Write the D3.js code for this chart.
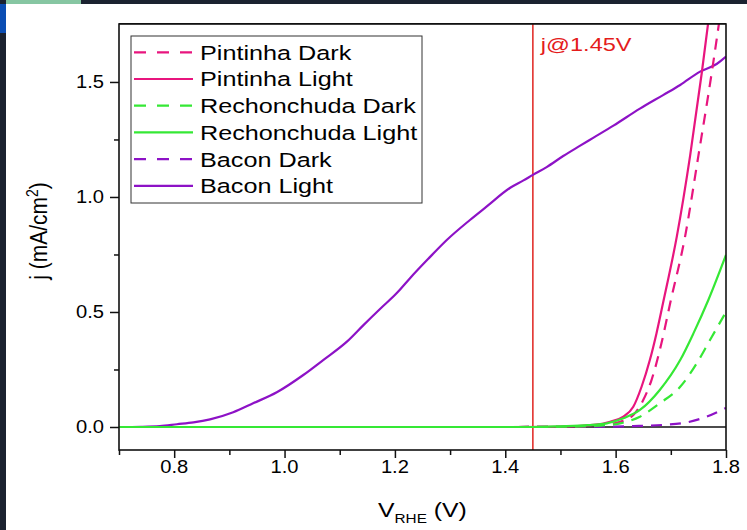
<!DOCTYPE html>
<html><head><meta charset="utf-8">
<script src="https://cdn.jsdelivr.net/npm/d3@7"></script>
<style>html,body{margin:0;padding:0;background:#fff;overflow:hidden}svg{display:block}</style>
</head><body>
<script>
// ---- data ----
const baconLightV = [0.70,0.74,0.774,0.805,0.835,0.865,0.907,0.943,0.986,1.034,1.070,1.113,1.143,1.173,1.203,1.227,1.260,1.294,1.336,1.366,1.409,1.433,1.450,1.475,1.505,1.535,1.560,1.596,1.644,1.686,1.717,1.753,1.783,1.800];
const baconLightJ = [0.000,0.001,0.004,0.012,0.020,0.033,0.064,0.103,0.151,0.226,0.291,0.371,0.443,0.513,0.581,0.646,0.730,0.813,0.900,0.958,1.040,1.072,1.096,1.130,1.178,1.222,1.258,1.310,1.384,1.443,1.487,1.545,1.578,1.610];
const baconDarkV = [0.70,1.00,1.40,1.50,1.60,1.632,1.686,1.729,1.765,1.800];
const baconDarkJ = [0.000,0.000,0.000,0.001,0.002,0.004,0.009,0.020,0.045,0.083];
const pintLightV = [0.70,1.00,1.40,1.50,1.560,1.590,1.614,1.632,1.647,1.662,1.674,1.686,1.711,1.735,1.756,1.770];
const pintLightJ = [0.000,0.000,0.000,0.001,0.009,0.023,0.045,0.088,0.175,0.291,0.407,0.540,0.830,1.180,1.538,1.800];
const pintDarkV = [0.70,1.00,1.40,1.50,1.570,1.608,1.632,1.650,1.665,1.683,1.699,1.726,1.750,1.774,1.790];
const pintDarkJ = [0.000,0.000,0.000,0.001,0.008,0.023,0.052,0.117,0.204,0.364,0.540,0.830,1.180,1.538,1.800];
const rechLightV = [0.70,1.00,1.40,1.45,1.50,1.55,1.584,1.614,1.644,1.680,1.717,1.741,1.768,1.800];
const rechLightJ = [0.000,0.000,0.000,0.000,0.003,0.008,0.016,0.038,0.074,0.161,0.291,0.407,0.552,0.748];
const rechDarkV = [0.70,1.00,1.40,1.50,1.570,1.608,1.644,1.680,1.717,1.747,1.771,1.800];
const rechDarkJ = [0.000,0.000,0.000,0.001,0.006,0.016,0.045,0.103,0.175,0.277,0.378,0.500];
const seriesNames = ["Pintinha Dark","Pintinha Light","Rechonchuda Dark","Rechonchuda Light","Bacon Dark","Bacon Light"];
const xMajorTicks = [0.8,1.0,1.2,1.4,1.6,1.8];
const xMinorTicks = [0.7,0.9,1.1,1.3,1.5,1.7];
const yMajorTicks = [0.0,0.5,1.0,1.5];
const yMinorTicks = [0.25,0.75,1.25];
const markerV = 1.45;
const markerLabel = "j@1.45V";

// ---- styles ----
const colors = {"Pintinha":"#e8157e","Rechonchuda":"#35e835","Bacon":"#8d12c6"};
const W = 747, H = 530;
const plot = {left:119, right:726, top:24, bottom:450};
const FONT = "'Liberation Sans', Arial, sans-serif";

const svg = d3.select("body").append("svg").attr("width",W).attr("height",H);

// window decorations
svg.append("rect").attr("x",0).attr("y",0).attr("width",W).attr("height",4).attr("fill","#1b2230");
svg.append("rect").attr("x",6).attr("y",0).attr("width",75).attr("height",4).attr("fill","#86c6a2");
svg.append("rect").attr("x",0).attr("y",0).attr("width",6).attr("height",H).attr("fill","#1b2230");
svg.append("rect").attr("x",0).attr("y",4).attr("width",6).attr("height",29).attr("fill","#0b4db3");

const x = d3.scaleLinear().domain([0.7,1.8]).range([plot.left,plot.right]);
const y = d3.scaleLinear().domain([-0.1,1.752]).range([plot.bottom,plot.top]);

const defs = svg.append("defs");
defs.append("clipPath").attr("id","clip").append("rect")
  .attr("x",plot.left).attr("y",plot.top).attr("width",plot.right-plot.left).attr("height",plot.bottom-plot.top);

// zero line
svg.append("line").attr("x1",plot.left).attr("x2",plot.right).attr("y1",y(0)).attr("y2",y(0))
  .attr("stroke","#111").attr("stroke-width",1.5);

// marker line
svg.append("line").attr("x1",x(markerV)).attr("x2",x(markerV)).attr("y1",plot.top).attr("y2",plot.bottom)
  .attr("stroke","#e2312c").attr("stroke-width",1.6);

function stretchText(g, tx, ty, str, size, sx, anchor, color){
  return g.append("text").attr("transform",`translate(${tx},${ty}) scale(${sx},1)`)
    .attr("font-family",FONT).attr("font-size",size).attr("text-anchor",anchor||"start")
    .attr("fill",color||"#000").text(str);
}

// curves
const line = d3.line().x(d=>x(d[0])).y(d=>y(d[1])).curve(d3.curveMonotoneX);
const curves = [
  {name:"Bacon Dark", V:baconDarkV, J:baconDarkJ, c:colors.Bacon, dash:true},
  {name:"Bacon Light", V:baconLightV, J:baconLightJ, c:colors.Bacon, dash:false},
  {name:"Pintinha Dark", V:pintDarkV, J:pintDarkJ, c:colors.Pintinha, dash:true},
  {name:"Pintinha Light", V:pintLightV, J:pintLightJ, c:colors.Pintinha, dash:false},
  {name:"Rechonchuda Dark", V:rechDarkV, J:rechDarkJ, c:colors.Rechonchuda, dash:true},
  {name:"Rechonchuda Light", V:rechLightV, J:rechLightJ, c:colors.Rechonchuda, dash:false}
];
const cg = svg.append("g").attr("clip-path","url(#clip)");
curves.forEach(s=>{
  cg.append("path").datum(s.V.map((v,i)=>[v,s.J[i]])).attr("d",line)
    .attr("fill","none").attr("stroke",s.c).attr("stroke-width",2.2)
    .attr("stroke-dasharray",s.dash?"11,8":null);
});

// axes
const ax = svg.append("g").attr("transform",`translate(0,${plot.bottom})`)
  .call(d3.axisBottom(x).tickValues(xMajorTicks).tickSize(8).tickFormat(()=>""));
const axm = svg.append("g").attr("transform",`translate(0,${plot.bottom})`)
  .call(d3.axisBottom(x).tickValues(xMinorTicks).tickSize(5).tickFormat(()=>""));
const ay = svg.append("g").attr("transform",`translate(${plot.left},0)`)
  .call(d3.axisLeft(y).tickValues(yMajorTicks).tickSize(9).tickFormat(()=>""));
const aym = svg.append("g").attr("transform",`translate(${plot.left},0)`)
  .call(d3.axisLeft(y).tickValues(yMinorTicks).tickSize(5).tickFormat(()=>""));
[ax,axm,ay,aym].forEach(g=>{
  g.select(".domain").remove();
  g.selectAll(".tick line").attr("stroke","#111").attr("stroke-width",1.5);
});
// tick labels
const tl = svg.append("g");
xMajorTicks.forEach(v=>stretchText(tl, x(v), 473, d3.format(".1f")(v), 18, 1.12, "middle"));
yMajorTicks.forEach(v=>stretchText(tl, 104, y(v)+6.5, d3.format(".1f")(v), 18, 1.12, "end"));

// frame
svg.append("rect").attr("x",plot.left).attr("y",plot.top).attr("width",plot.right-plot.left).attr("height",plot.bottom-plot.top)
  .attr("fill","none").attr("stroke","#111").attr("stroke-width",1.6);
svg.append("line").attr("x1",plot.left).attr("x2",plot.right).attr("y1",plot.top-0.5).attr("y2",plot.top-0.5)
  .attr("stroke","#111").attr("stroke-width",1);

// marker label
stretchText(svg, x(markerV)+8, 51, markerLabel, 19, 1.24, "start", "#e41c1c");

// legend
const lg = svg.append("g");
lg.append("rect").attr("x",131).attr("y",36).attr("width",291).attr("height",167)
  .attr("fill","#fff").attr("stroke","#333").attr("stroke-width",1);
const legendOrder = seriesNames.map(n=>curves.find(c=>c.name===n));
legendOrder.forEach((s,i)=>{
  const cy = 52.3 + i*26.7;
  lg.append("line").attr("x1",134).attr("x2",193).attr("y1",cy).attr("y2",cy)
    .attr("stroke",s.c).attr("stroke-width",2.2).attr("stroke-dasharray",s.dash?"12,11":null);
  stretchText(lg, 200, cy+7.4, s.name, 20.5, 1.23, "start");
});

// axis titles
const yt = svg.append("text").attr("transform",`translate(47,231) rotate(-90) scale(1,1.15)`)
  .attr("font-family",FONT).attr("font-size",21).attr("text-anchor","middle");
yt.append("tspan").text("j (mA/cm");
yt.append("tspan").attr("font-size",14).attr("dy",-8).text("2");
yt.append("tspan").attr("dy",8).text(")");

const xt = svg.append("text").attr("transform",`translate(378,517) scale(1.18,1)`)
  .attr("font-family",FONT).attr("font-size",21).attr("text-anchor","start");
xt.append("tspan").text("V");
xt.append("tspan").attr("font-size",13).attr("dy",6).text("RHE");
xt.append("tspan").attr("dy",-6).text(" (V)");
</script>
</body></html>
